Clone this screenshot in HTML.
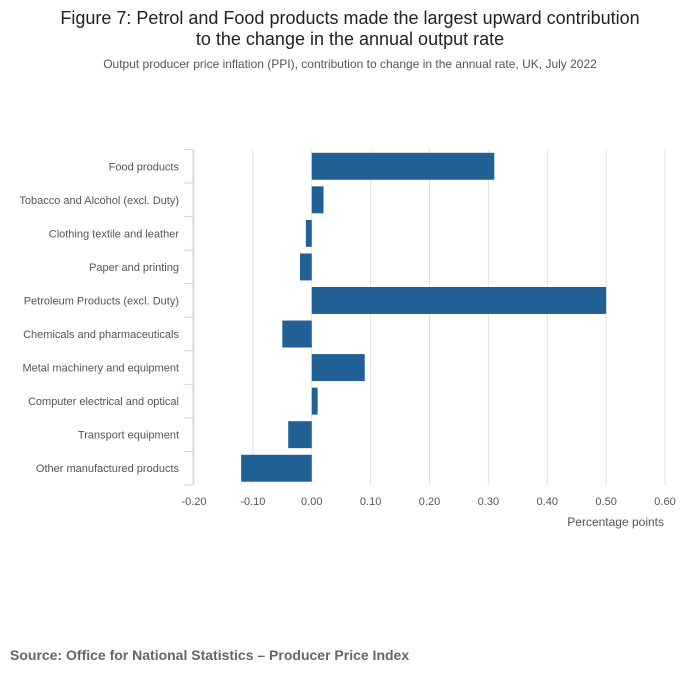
<!DOCTYPE html>
<html><head><meta charset="utf-8"><style>
body{margin:0;background:#fff;font-family:"Liberation Sans",sans-serif;}
</style></head><body>
<svg width="700" height="682" xmlns="http://www.w3.org/2000/svg" id="chart" font-family="Liberation Sans, sans-serif">
<text x="350" y="24" text-anchor="middle" font-size="18" fill="#222">Figure 7: Petrol and Food products made the largest upward contribution</text>
<text x="350" y="45" text-anchor="middle" font-size="18" fill="#222">to the change in the annual output rate</text>
<text x="350" y="68" text-anchor="middle" font-size="12" fill="#555">Output producer price inflation (PPI), contribution to change in the annual rate, UK, July 2022</text>
<g id="grid"></g><g id="bars"></g><g id="axes"></g>
<text x="664" y="526" text-anchor="end" font-size="12" fill="#555">Percentage points</text>
<text x="10" y="660" font-size="14" font-weight="bold" fill="#666">Source: Office for National Statistics – Producer Price Index</text>
</svg>
<script>
const categories=["Food products","Tobacco and Alcohol (excl. Duty)","Clothing textile and leather","Paper and printing","Petroleum Products (excl. Duty)","Chemicals and pharmaceuticals","Metal machinery and equipment","Computer electrical and optical","Transport equipment","Other manufactured products"];
const values=[0.31,0.02,-0.01,-0.02,0.50,-0.05,0.09,0.01,-0.04,-0.12];
const ticks=[-0.2,-0.1,0,0.1,0.2,0.3,0.4,0.5,0.6];
const tickLabels=["-0.20","-0.10","0.00","0.10","0.20","0.30","0.40","0.50","0.60"];
const NS="http://www.w3.org/2000/svg";
const x0=194,x1=665,xmin=-0.2,xmax=0.6,plotTop=149.5,plotBottom=485;
const X=v=>x0+(v-xmin)/(xmax-xmin)*(x1-x0);
const rowH=(plotBottom-plotTop)/categories.length;
const Y=i=>plotTop+i*rowH;
function mk(tag,attrs,parent){const e=document.createElementNS(NS,tag);for(const k in attrs)e.setAttribute(k,attrs[k]);document.getElementById(parent).appendChild(e);return e;}
ticks.forEach((t,i)=>{
  const g=mk('line',{x1:X(t),x2:X(t),y1:plotTop,y2:plotBottom,stroke:'#e2e2e2','stroke-width':1},'grid');
  
  
  const l=mk('text',{x:X(t),y:plotBottom+20,'text-anchor':'middle','font-size':11,fill:'#555'},'axes');
  l.textContent=tickLabels[i];
  
  
});
categories.forEach((c,i)=>{
  const v=values[i];
  const b=mk('rect',{x:Math.min(X(0),X(v)),y:Y(i)+3.3,width:Math.abs(X(v)-X(0)),height:rowH-6.6,fill:'#206095'},'bars');
  
  
  const l=mk('text',{x:179,y:Y(i)+rowH/2+4,'text-anchor':'end','font-size':11,fill:'#555'},'axes');
  l.textContent=c;
  
  
});
for(let i=0;i<=categories.length;i++){
  const t=mk('line',{x1:184,x2:193,y1:Y(i),y2:Y(i),stroke:'#ccd6e6','stroke-width':1},'axes');
  
  
}
const ax=mk('line',{x1:193,x2:193,y1:plotTop,y2:plotBottom,stroke:'#ccd6e6','stroke-width':1},'axes');


</script>
</body></html>
